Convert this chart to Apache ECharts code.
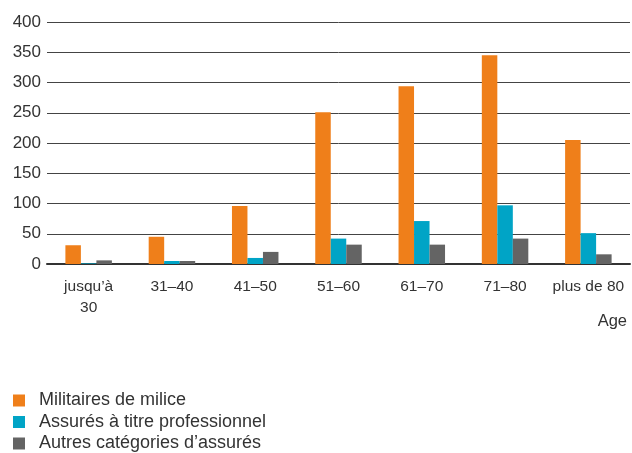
<!DOCTYPE html>
<html>
<head>
<meta charset="utf-8">
<script src="https://cdn.jsdelivr.net/npm/echarts@6/dist/echarts.min.js"></script>
<style>html,body{margin:0;padding:0;background:#fff}#c{width:632px;height:453px}</style>
</head>
<body>
<div id="c"></div>
<script>
const categories = ['jusqu’à\n30', '31–40', '41–50', '51–60', '61–70', '71–80', 'plus de 80'];
const seriesNames = ['Militaires de milice', 'Assurés à titre professionnel', 'Autres catégories d’assurés'];
const milice = [31, 45, 96, 251, 294, 345, 205];
const professionnel = [1, 5, 10, 42, 71, 97, 51];
const autres = [6, 5, 20, 32, 32, 42, 16];
const yTicks = [0, 50, 100, 150, 200, 250, 300, 350, 400];
const colors = ['#EF7F1A', '#00A4C6', '#646464'];

const chart = echarts.init(document.getElementById('c'));
const font = 'Liberation Sans, Arial, Helvetica, sans-serif';
const dataSets = [milice, professionnel, autres];
chart.setOption({
  animation: false,
  textStyle: { fontFamily: font },
  grid: { left: 47, right: 2, top: 22, height: 242 },
  xAxis: {
    type: 'category',
    data: categories,
    axisTick: { show: false },
    axisLine: { lineStyle: { color: '#333', width: 2 } },
    axisLabel: { color: '#333', fontSize: 15.5, lineHeight: 21, margin: 12, interval: 0 }
  },
  yAxis: {
    type: 'value',
    min: yTicks[0], max: yTicks[yTicks.length - 1], interval: 50,
    axisLine: { show: false },
    axisTick: { show: false },
    axisLabel: { color: '#333', fontSize: 17, margin: 6 },
    splitLine: { lineStyle: { color: '#444', width: 1 } }
  },
  legend: {
    orient: 'vertical', left: 13, top: 390, height: 80, width: 400,
    itemWidth: 12, itemHeight: 12, itemGap: 0.5,
    icon: 'rect', padding: 0,
    textStyle: { color: '#333', fontSize: 18, lineHeight: 21, padding: [0, 0, 0, 9] },
    data: seriesNames
  },
  graphic: [{
    type: 'text', right: 5, top: 313,
    style: { text: 'Age', fill: '#333', font: '16.5px ' + font }
  }],
  series: seriesNames.map((n, i) => ({
    name: n, type: 'bar', data: dataSets[i],
    barWidth: 15.5, barGap: '0%',
    itemStyle: { color: colors[i] }
  }))
});
</script>
</body>
</html>
